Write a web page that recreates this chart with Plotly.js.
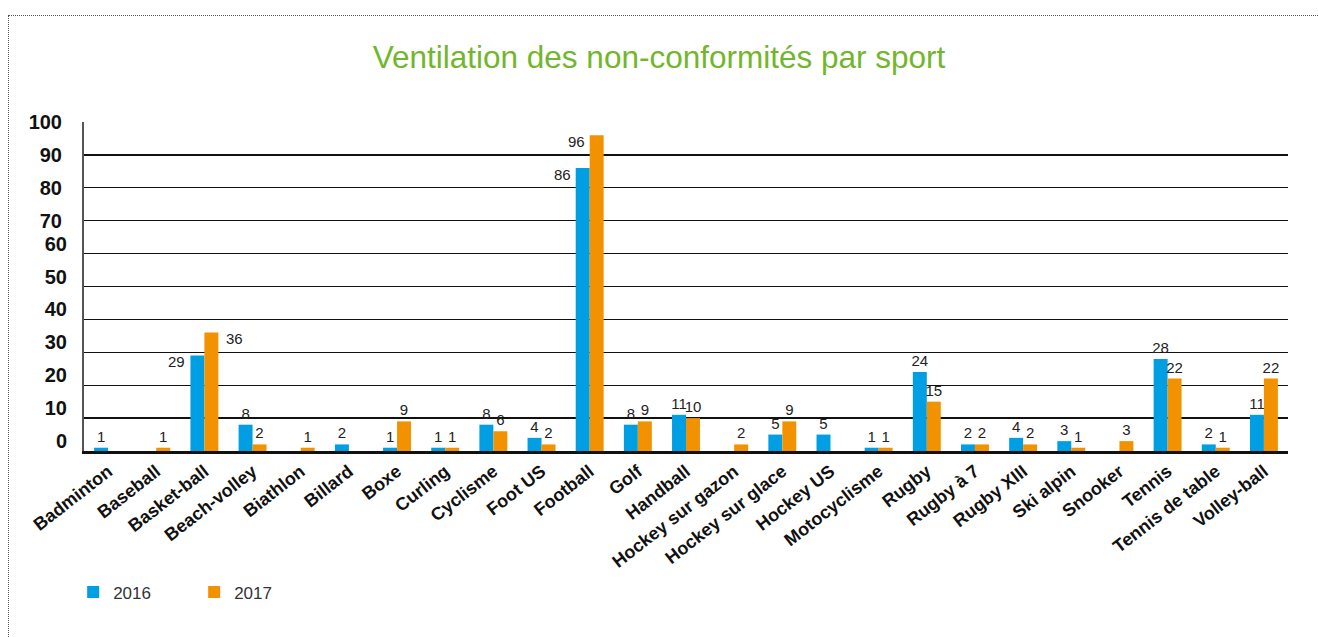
<!DOCTYPE html>
<html>
<head>
<meta charset="utf-8">
<script src="https://cdn.plot.ly/plotly-3.0.1.min.js"></script>
<style>
  html, body { margin: 0; padding: 0; background: #fff; }
  #wrap { position: relative; width: 1318px; height: 637px; }
  #chart { width: 1318px; height: 637px; }
  #frame { position: absolute; left: 8px; top: 15px; right: 0; bottom: 0;
           border-top: 1.5px dotted #555; border-left: 1.5px dotted #555; pointer-events: none; }
</style>
</head>
<body>
<div id="wrap">
  <div id="chart"></div>
  <div id="frame"></div>
</div>
<script>
const categories = ["Badminton", "Baseball", "Basket-ball", "Beach-volley", "Biathlon", "Billard", "Boxe", "Curling", "Cyclisme", "Foot US", "Football", "Golf", "Handball", "Hockey sur gazon", "Hockey sur glace", "Hockey US", "Motocyclisme", "Rugby", "Rugby à 7", "Rugby XIII", "Ski alpin", "Snooker", "Tennis", "Tennis de table", "Volley-ball"];
const values2016 = [1, 0, 29, 8, 0, 2, 1, 1, 8, 4, 86, 8, 11, 0, 5, 5, 1, 24, 2, 4, 3, 0, 28, 2, 11];
const values2017 = [0, 1, 36, 2, 1, 0, 9, 1, 6, 2, 96, 9, 10, 2, 9, 0, 1, 15, 2, 2, 1, 3, 22, 1, 22];
const seriesNames = ["2016", "2017"];
const yTicks = [0, 10, 20, 30, 40, 50, 60, 70, 80, 90, 100];

const blue = "#009fe3";
const orange = "#f39200";

// Labels drawn beside the bar instead of on top (by category name)
const sideLabels2016 = { "Basket-ball": { xshift: -17, xanchor: "right" }, "Football": { xshift: -17, xanchor: "right" } };
const sideLabels2017 = { "Basket-ball": { xshift: 20, xanchor: "left" }, "Football": { xshift: -3, xanchor: "right" } };

function labels(vals, side) {
  return vals.map((v, i) => (v === 0 || side[categories[i]]) ? "" : String(v));
}

const labelFont = { family: "Liberation Sans, Arial, sans-serif", size: 15, color: "#222" };

const traces = [
  { type: "bar", name: seriesNames[0], x: categories, y: values2016, marker: { color: blue },
    text: labels(values2016, sideLabels2016), textposition: "outside", constraintext: "none",
    cliponaxis: false, textfont: labelFont, hoverinfo: "x+y" },
  { type: "bar", name: seriesNames[1], x: categories, y: values2017, marker: { color: orange },
    text: labels(values2017, sideLabels2017), textposition: "outside", constraintext: "none",
    cliponaxis: false, textfont: labelFont, hoverinfo: "x+y" },
  // invisible carrier so the overlaid label axis is drawn
  { type: "scatter", mode: "markers", x: [categories[0]], y: [0], yaxis: "y2",
    marker: { opacity: 0, size: 1 }, showlegend: false, hoverinfo: "skip" }
];

const annotations = [];
[[values2016, sideLabels2016], [values2017, sideLabels2017]].forEach(([vals, side]) => {
  categories.forEach((c, i) => {
    if (side[c]) {
      annotations.push({ x: c, y: vals[i], xref: "x", yref: "y", text: String(vals[i]), showarrow: false,
        xanchor: side[c].xanchor, yanchor: "middle", xshift: side[c].xshift, yshift: -6, font: labelFont });
    }
  });
});

const lowerTicks = yTicks.filter(v => v < 70);
const tickFont = { family: "Liberation Sans, Arial, sans-serif", size: 20, color: "#111", weight: "bold" };

const layout = {
  width: 1318, height: 637,
  margin: { l: 84, r: 30, t: 122, b: 186 },
  paper_bgcolor: "#fff", plot_bgcolor: "#fff",
  title: { text: "Ventilation des non-conformités par sport", x: 0.5, xanchor: "center", y: 0.91, yanchor: "middle",
           font: { family: "Liberation Sans, Arial, sans-serif", size: 31.5, color: "#72b62b" } },
  barmode: "group", bargap: 0.42, bargroupgap: 0,
  showlegend: true,
  legend: { orientation: "h", x: -0.009, xanchor: "left", y: -0.43, yanchor: "middle",
            font: { family: "Liberation Sans, Arial, sans-serif", size: 17, color: "#333" },
            entrywidth: 76, traceorder: "normal" },
  xaxis: { type: "category", range: [-0.5, categories.length - 0.5], showgrid: false, showline: true,
           linecolor: "#111", linewidth: 3, ticks: "", tickangle: -38, automargin: false,
           tickfont: { family: "Liberation Sans, Arial, sans-serif", size: 18, color: "#111", weight: "bold" } },
  yaxis: { range: [0, 100], tickmode: "array", tickvals: yTicks,
           ticktext: yTicks.map(v => v >= 70 ? String(v) : ""),
           showgrid: true, gridcolor: "#111", gridwidth: 1.3, zeroline: false,
           showline: true, linecolor: "#555", linewidth: 2, ticks: "", ticklabelstandoff: 16,
           tickfont: tickFont, automargin: false, fixedrange: true },
  yaxis2: { range: [0, 100], overlaying: "y", side: "left", anchor: "x", tickmode: "array", tickvals: lowerTicks,
            ticktext: lowerTicks.map(String), showgrid: false, zeroline: false, showline: false,
            ticks: "", ticklabelstandoff: 16, ticklabelshift: -10, tickfont: tickFont, automargin: false },
  annotations: annotations
};

Plotly.newPlot("chart", traces, layout, { displayModeBar: false, staticPlot: true });
</script>
</body>
</html>
